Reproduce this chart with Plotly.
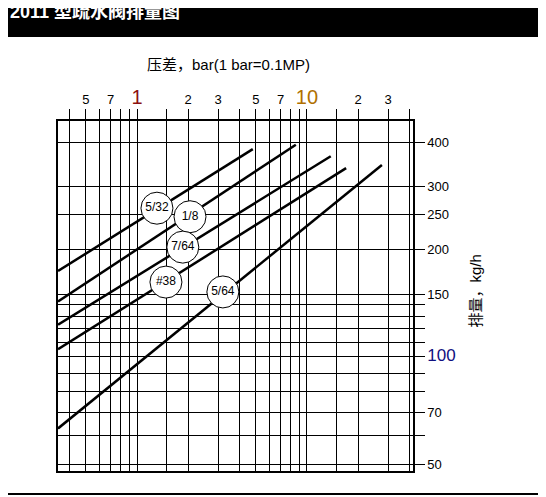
import math
import plotly.graph_objects as go

# orifice lines: start / end (pressure bar, flow kg/h)
orifices = ["5/32", "1/8", "7/64", "#38", "5/64"]
start_p = [0.343, 0.343, 0.343, 0.343, 0.343]
start_q = [174, 143, 123, 105, 63]
end_p = [4.8, 8.6, 13.8, 17, 27.6]
end_q = [382, 393, 365, 338, 345]
end_labels = ["4.8", "8.6", "13.8", "17", "27.6"]
circle_p = [1.31, 2.05, 1.86, 1.48, 3.2]
circle_q = [261, 247, 203, 162, 152]

x_ticks = [0.4, 0.5, 0.6, 0.7, 0.8, 0.9, 1, 1.5, 2, 3, 4, 5, 6, 7, 8, 9, 10, 15, 20, 30, 40]
x_text = ["", "5", "", "7", "", "", "<span style='font-size:20px;color:#8b1010'>1</span>",
          "", "2", "3", "", "5", "", "7", "", "", "<span style='font-size:20px;color:#b07000'>10</span>",
          "", "2", "3", ""]
y_ticks = [50, 60, 70, 80, 90, 100, 110, 120, 130, 140, 150, 200, 250, 300, 400]
y_text = ["50", "", "70", "", "", "<span style='font-size:17px;color:#101080'>100</span>",
          "", "", "", "", "150", "200", "250", "300", "400"]

W, H = 538, 489
L, R, T, B = 50, 133, 113, 26
pw, ph = W - L - R, H - T - B


def px(x):
    return (x - L) / pw


def py(y):
    return (H - B - y) / ph


fig = go.Figure()
for i in range(len(orifices)):
    fig.add_trace(go.Scatter(x=[start_p[i], end_p[i]], y=[start_q[i], end_q[i]], mode="lines",
                             line=dict(color="black", width=2.5), showlegend=False))
    fig.add_annotation(x=math.log10(end_p[i]), y=math.log10(end_q[i]), text=end_labels[i],
                       showarrow=False, yshift=9, xshift=-2, font=dict(size=12, color="black"),
                       bgcolor="white")
fig.add_trace(go.Scatter(x=circle_p, y=circle_q, mode="markers+text", text=orifices,
                         textposition="middle center",
                         marker=dict(size=32, color="white", line=dict(color="black", width=1)),
                         textfont=dict(size=12, color="black"), showlegend=False))

fig.update_layout(
    width=W, height=H, margin=dict(l=L, r=R, t=T, b=B),
    paper_bgcolor="white", plot_bgcolor="white",
    font=dict(family="Liberation Sans, Noto Sans CJK SC", color="black"),
    xaxis=dict(type="log", range=[-0.465, 1.624], side="top", tickvals=x_ticks, ticktext=x_text,
               ticks="outside", ticklen=10, tickcolor="black", showgrid=True, gridcolor="black",
               gridwidth=1, showline=True, linecolor="black", linewidth=1.5, mirror=True,
               tickfont=dict(size=13)),
    yaxis=dict(type="log", range=[1.68, 2.661], side="right", tickvals=y_ticks, ticktext=y_text,
               ticks="outside", ticklen=10, tickcolor="black", showgrid=True, gridcolor="black",
               gridwidth=1, showline=True, linecolor="black", linewidth=1.5, mirror=True,
               tickfont=dict(size=13)),
    shapes=[
        dict(type="rect", xref="paper", yref="paper", x0=px(-5), x1=px(532),
             y0=py(486), y1=py(-5), line=dict(color="black", width=2)),
        dict(type="rect", xref="paper", yref="paper", x0=px(-5), x1=px(532),
             y0=py(29), y1=py(-5), fillcolor="black", line=dict(width=0), layer="below"),
    ],
    annotations=[
        dict(xref="paper", yref="paper", x=px(2), y=py(12), xanchor="left",
             yanchor="middle", showarrow=False, text="<b>2011 型疏水阀排量图</b>",
             font=dict(size=18, color="white"), bgcolor="black"),
        dict(xref="paper", yref="paper", x=px(222), y=py(55), showarrow=False,
             text="压差，bar(1 bar=0.1MP)", font=dict(size=15)),
        dict(xref="paper", yref="paper", x=px(479), y=py(292), showarrow=False,
             text="排量，kg/h", textangle=-90, font=dict(size=15)),
    ],
)
fig.write_html("out.html")
